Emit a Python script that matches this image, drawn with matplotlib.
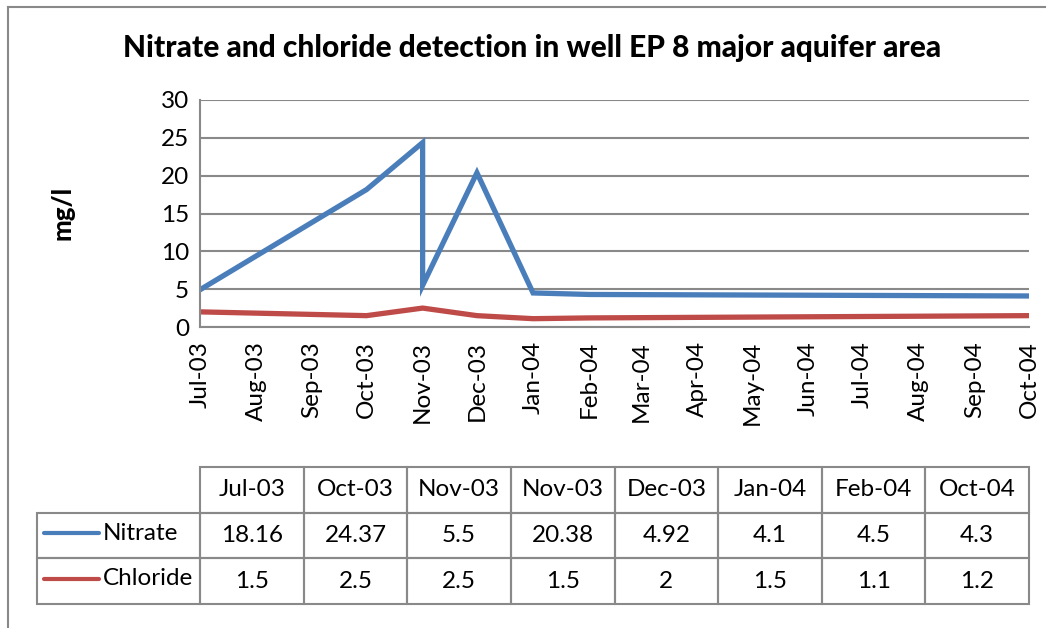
import datetime as dt
import matplotlib
matplotlib.use('Agg')
import matplotlib.pyplot as plt
import matplotlib.dates as mdates
from matplotlib.lines import Line2D
from matplotlib.patches import Rectangle

# series as drawn on the chart
sample_dates = ['2003-07', '2003-10', '2003-11', '2003-11', '2003-12', '2004-01', '2004-02', '2004-10']
nitrate = [4.92, 18.16, 24.37, 5.5, 20.38, 4.5, 4.3, 4.1]
chloride = [2.0, 1.5, 2.5, 2.5, 1.5, 1.1, 1.2, 1.5]

# data table under the chart, as printed
table_cols = ['Jul-03', 'Oct-03', 'Nov-03', 'Nov-03', 'Dec-03', 'Jan-04', 'Feb-04', 'Oct-04']
table_nitrate = ['18.16', '24.37', '5.5', '20.38', '4.92', '4.1', '4.5', '4.3']
table_chloride = ['1.5', '2.5', '2.5', '1.5', '2', '1.5', '1.1', '1.2']

y_ticks = [0, 5, 10, 15, 20, 25, 30]

BLUE = '#4a7ebb'
RED = '#be4b48'
GRID = '#898989'
FS = 17.5

plt.rcParams['font.family'] = ['Lato', 'DejaVu Sans']

W, H = 1046, 628
fig = plt.figure(figsize=(W / 100, H / 100), dpi=100)

dates = [dt.datetime.strptime(d, '%Y-%m') for d in sample_dates]

# ---- main chart ----
ax = fig.add_axes([200 / W, 1 - 327 / H, 829 / W, 227 / H])
ax.plot(dates, nitrate, color=BLUE, lw=3.8, solid_joinstyle='miter', label='Nitrate')
ax.plot(dates, chloride, color=RED, lw=3.8, label='Chloride')

ax.set_ylim(0, 30)
ax.set_yticks(y_ticks)
ax.set_xlim(dt.datetime(2003, 7, 1), dt.datetime(2004, 10, 1))
ax.xaxis.set_major_locator(mdates.MonthLocator())
ax.xaxis.set_major_formatter(mdates.DateFormatter('%b-%y'))
plt.setp(ax.get_xticklabels(), rotation=90, ha='center', va='top')
ax.tick_params(axis='both', length=0, labelsize=FS)
ax.tick_params(axis='x', pad=10)
ax.tick_params(axis='y', pad=8)
ax.grid(axis='y', color=GRID, lw=1.5)
ax.set_axisbelow(True)
for side in ['top', 'right']:
    ax.spines[side].set_visible(False)
for side in ['left', 'bottom']:
    ax.spines[side].set_color(GRID)
    ax.spines[side].set_linewidth(1.5)

fig.text(532 / W, 1 - 48 / H, 'Nitrate and chloride detection in well EP 8 major aquifer area',
         ha='center', va='center', fontsize=21.5, fontweight='black')
fig.text(62 / W, 1 - 213 / H, 'mg/l', rotation=90, ha='center', va='center',
         fontsize=18.5, fontweight='black')

# ---- data table ----
tax = fig.add_axes([37 / W, 24 / H, 992 / W, 137 / H])
lab_w = 163 / 103.6
tax.set_xlim(-lab_w, len(table_cols))
tax.set_ylim(0, 3)
tax.axis('off')

cell = dict(fill=False, ec=GRID, lw=1.5, clip_on=False)
for i, name in enumerate(table_cols):
    tax.add_patch(Rectangle((i, 2), 1, 1, **cell))
    tax.text(i + 0.5, 2.5, name, ha='center', va='center', fontsize=FS)

rows = [('Nitrate', table_nitrate, BLUE, 1), ('Chloride', table_chloride, RED, 0)]
for label, vals, color, y in rows:
    tax.add_patch(Rectangle((-lab_w, y), lab_w, 1, **cell))
    tax.plot([-lab_w + 7 / 103.6, -lab_w + 62 / 103.6], [y + 0.55, y + 0.55],
             color=color, lw=3, solid_capstyle='round', clip_on=False)
    tax.text(-lab_w + 66 / 103.6, y + 0.55, label, ha='left', va='center', fontsize=FS)
    for i, v in enumerate(vals):
        tax.add_patch(Rectangle((i, y), 1, 1, **cell))
        tax.text(i + 0.5, y + 0.5, v, ha='center', va='center', fontsize=FS)

# chart frame (top and left edges visible in the source)
fig.add_artist(Line2D([8 / W, 1], [1 - 7 / H, 1 - 7 / H], color=GRID, lw=1.5))
fig.add_artist(Line2D([8 / W, 8 / W], [1 - 7 / H, 0], color=GRID, lw=1.5))

fig.savefig('out.png', dpi=100)
